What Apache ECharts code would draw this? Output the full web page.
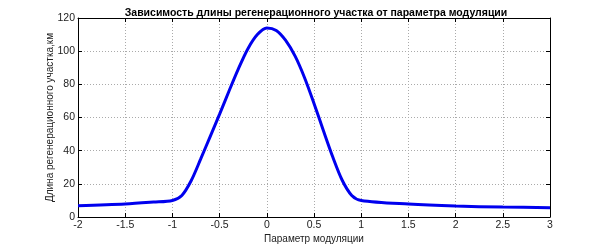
<!DOCTYPE html>
<html><head><meta charset="utf-8">
<script src="https://cdn.jsdelivr.net/npm/echarts@6/dist/echarts.min.js"></script>
<style>html,body{margin:0;padding:0;background:#fff}#c{width:608px;height:244px}</style>
</head><body><div id="c"></div>
<script>
const titleText = 'Зависимость длины регенерационного участка от параметра модуляции';
const xName = 'Параметр модуляции';
const yName = 'Длина регенерационного участка,км';
const modParam = [-2,-1.5,-1.2,-1,-0.9,-0.8,-0.7,-0.6,-0.5,-0.4,-0.3,-0.2,-0.1,0,0.1,0.2,0.3,0.4,0.5,0.6,0.7,0.8,0.9,1,1.5,2,2.5,3];
const sectionLen = [6.8,7.8,9,10,13,22,35,48.5,62,76,89.5,101.5,110,114,112.5,106.5,97,84,68.5,52,36,22,13,10,7.8,6.6,6.0,5.6];
const xTicks = {min:-2, max:3, interval:0.5};
const yTicks = {min:0, max:120, interval:20};

const font = '"Liberation Sans", Arial, sans-serif';
const chart = echarts.init(document.getElementById('c'), null, {renderer:'canvas'});
const axisLine = {show:true, onZero:false, lineStyle:{color:'#000', width:1}};
const tick = {show:true, inside:true, length:4, lineStyle:{color:'#000'}};
const grid = {show:true, lineStyle:{color:'#aaa', type:[1,2], width:1}};
chart.setOption({
  animation:false,
  title:{text:titleText, left:311, top:3, textAlign:'center',
    textStyle:{fontFamily:font, fontSize:10.5, fontWeight:'bold', color:'#000'}},
  grid:{left:78, right:58, top:18, bottom:27, outerBoundsMode:'none', containLabel:false},
  xAxis:[{type:'value', min:xTicks.min, max:xTicks.max, interval:xTicks.interval,
    name:xName, nameLocation:'middle', nameGap:17, nameMoveOverlap:false,
    nameTextStyle:{fontFamily:font, fontSize:10, color:'#222'},
    axisLine, axisTick:tick, splitLine:grid,
    axisLabel:{fontFamily:font, fontSize:10.5, color:'#222', margin:3}},
   {type:'value', position:'top', min:xTicks.min, max:xTicks.max, interval:xTicks.interval,
    axisLine, axisTick:tick, axisLabel:{show:false}, splitLine:{show:false}}],
  yAxis:[{type:'value', min:yTicks.min, max:yTicks.max, interval:yTicks.interval,
    name:yName, nameLocation:'middle', nameGap:23, nameMoveOverlap:false,
    nameTextStyle:{fontFamily:font, fontSize:10, color:'#222'},
    axisLine, axisTick:tick, splitLine:grid,
    axisLabel:{fontFamily:font, fontSize:10.5, color:'#222', margin:3}},
   {type:'value', position:'right', min:yTicks.min, max:yTicks.max, interval:yTicks.interval,
    axisLine, axisTick:tick, axisLabel:{show:false}, splitLine:{show:false}}],
  series:[{type:'line', data:modParam.map((x,i)=>[x, sectionLen[i]]), smooth:0.3,
    showSymbol:false, lineStyle:{color:'#0000ee', width:3}}]
});
</script></body></html>
